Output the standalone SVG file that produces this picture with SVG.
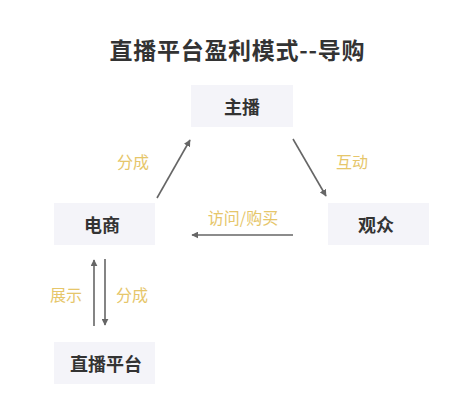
<svg xmlns="http://www.w3.org/2000/svg" width="473" height="400" viewBox="0 0 473 400">
<style>
.node{fill:#f4f4f9}
.nt{font-family:"Noto Sans CJK SC","Noto Sans",sans-serif;font-size:18px;font-weight:bold;fill:#333;text-anchor:middle;dominant-baseline:central}
.lb{font-family:"Noto Sans CJK SC","Noto Sans",sans-serif;font-size:16px;fill:#e6c66a;text-anchor:middle;dominant-baseline:central}
.cn{stroke:#666;stroke-width:1.6;fill:none;marker-end:url(#ah)}
</style>
<defs>
<marker id="ah" viewBox="0 0 10 10" refX="9" refY="5" markerWidth="7" markerHeight="7" markerUnits="userSpaceOnUse" orient="auto">
<path d="M0,0 L10,5 L0,10 z" fill="#666"/>
</marker>
</defs>
<rect width="473" height="400" fill="#fff"/>
<text x="237" y="49" font-family="'Noto Sans CJK SC','Noto Sans',sans-serif" font-size="23" font-weight="bold" fill="#333" text-anchor="middle" dominant-baseline="central" textLength="255" lengthAdjust="spacing">直播平台盈利模式--导购</text>
<g id="n-zhubo"><rect class="node" x="191" y="85" width="102" height="42"/><text class="nt" x="242" y="106">主播</text></g>
<g id="n-dianshang"><rect class="node" x="54" y="203" width="101" height="42"/><text class="nt" x="102" y="224">电商</text></g>
<g id="n-guanzhong"><rect class="node" x="328" y="203" width="101" height="42"/><text class="nt" x="376" y="224">观众</text></g>
<g id="n-pingtai"><rect class="node" x="54" y="342" width="101" height="42"/><text class="nt" x="106" y="363">直播平台</text></g>
<g id="connectors">
<line class="cn" x1="157" y1="198" x2="190" y2="140"/>
<line class="cn" x1="293" y1="139" x2="326" y2="196"/>
<line class="cn" x1="293" y1="235" x2="192" y2="235"/>
<line class="cn" x1="94" y1="326" x2="94" y2="260"/>
<line class="cn" x1="105" y1="259" x2="105" y2="325"/>
</g>
<g id="labels">
<text class="lb" x="133" y="161">分成</text>
<text class="lb" x="352" y="161">互动</text>
<text class="lb" x="243" y="217">访问/购买</text>
<text class="lb" x="66" y="294">展示</text>
<text class="lb" x="132" y="294">分成</text>
</g>
</svg>
